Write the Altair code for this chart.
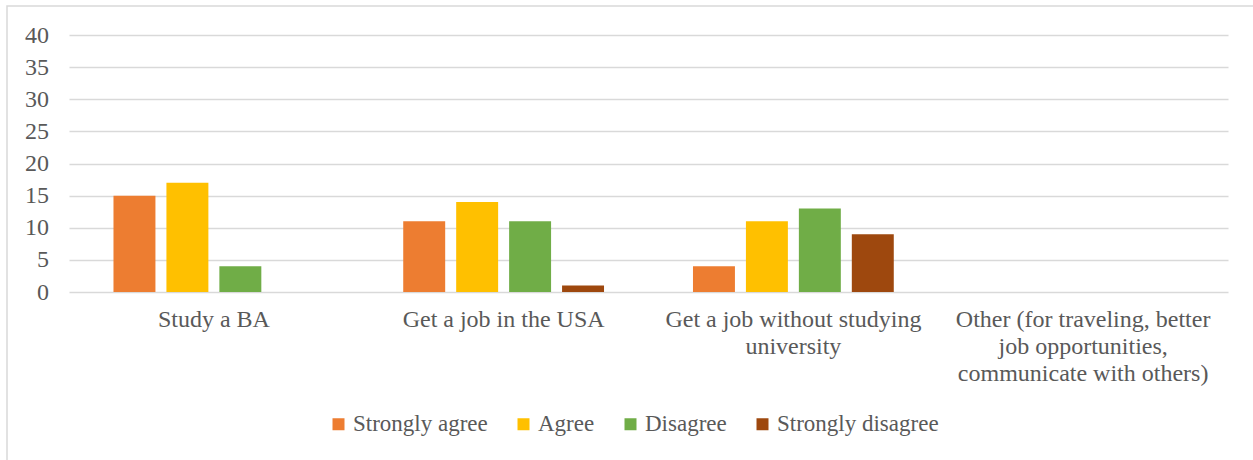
import altair as alt
import pandas as pd

categories = [
    "Study a BA",
    "Get a job in the USA",
    "Get a job without studying university",
    "Other (for traveling, better job opportunities, communicate with others)",
]
category_lines = [
    ["Study a BA"],
    ["Get a job in the USA"],
    ["Get a job without studying", "university"],
    ["Other (for traveling, better", "job opportunities,", "communicate with others)"],
]
series = ["Strongly agree", "Agree", "Disagree", "Strongly disagree"]
colors = ["#ED7D31", "#FFC000", "#70AD47", "#9E480E"]
strongly_agree = [15, 11, 4, 0]
agree = [17, 14, 11, 0]
disagree = [4, 11, 13, 0]
strongly_disagree = [0, 1, 9, 0]
y_ticks = [0, 5, 10, 15, 20, 25, 30, 35, 40]

values = [strongly_agree, agree, disagree, strongly_disagree]
rows = []
for s, vals in zip(series, values):
    for c, v in zip(categories, vals):
        rows.append({"category": c, "response": s, "count": v})
df = pd.DataFrame(rows)

def js(s):
    return "'" + s.replace("'", "\\'") + "'"

label_expr = ""
for c, lines in zip(categories, category_lines):
    label_expr += f"datum.value == {js(c)} ? [{', '.join(js(l) for l in lines)}] : "
label_expr += "datum.label"

FONT = "Liberation Serif"
TXT = "#595959"
GRID = "#D9D9D9"

bars = alt.Chart(df).mark_bar().encode(
    x=alt.X("category:N", sort=categories,
            scale=alt.Scale(paddingInner=0.307, paddingOuter=0.1535),
            axis=alt.Axis(title=None, labelAngle=0, ticks=False, domain=False, grid=False,
                          labelExpr=label_expr, labelFont=FONT, labelFontSize=24,
                          labelColor=TXT, labelPadding=15, labelLineHeight=27,
                          labelBaseline="top", labelLimit=400)),
    xOffset=alt.XOffset("response:N", sort=series,
                        scale=alt.Scale(paddingInner=0.2075, paddingOuter=0)),
    y=alt.Y("count:Q", scale=alt.Scale(domain=[0, 40], nice=False),
            axis=alt.Axis(title=None, values=y_ticks, ticks=False, domain=False,
                          labelFont=FONT, labelFontSize=24, labelColor=TXT,
                          labelPadding=20.5, gridColor=GRID, gridWidth=1.3)),
    color=alt.Color("response:N", sort=series,
                    scale=alt.Scale(domain=series, range=colors),
                    legend=alt.Legend(title=None, orient="none", direction="horizontal",
                                      legendX=258, legendY=377.5,
                                      symbolType="square", symbolSize=144,
                                      symbolStrokeWidth=0,
                                      labelFont=FONT, labelFontSize=23, labelColor=TXT,
                                      labelLimit=400,
                                      labelOffset=3, columnPadding=24)),
)

frame = alt.Chart(pd.DataFrame({"a": [0]})).mark_rect(
    fill=None, stroke=GRID, strokeWidth=1.5
).encode(
    x=alt.value(-62), x2=alt.value(1300),
    y=alt.value(-29), y2=alt.value(500),
)

chart = alt.layer(frame, bars).properties(
    width=1159, height=257,
    padding={"left": 69, "top": 35, "right": 25, "bottom": 168},
    autosize=alt.AutoSizeParams(type="none"),
).configure(
    background="white", font=FONT
).configure_view(
    stroke="transparent", strokeWidth=0
)

chart.save("out.html", embed_options={"renderer": "svg", "actions": False})
